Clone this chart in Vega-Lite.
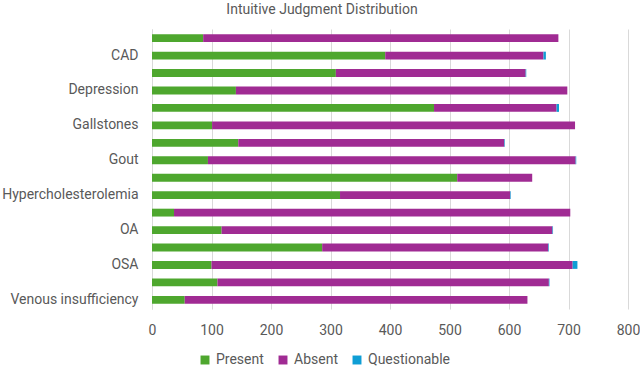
{
  "$schema": "https://vega.github.io/schema/vega-lite/v6.json",
  "autosize": {"type": "none"},
  "width": 476,
  "height": 280,
  "padding": {"left": 152, "top": 29, "right": 12, "bottom": 57},
  "background": "white",
  "title": {
    "text": "Intuitive Judgment Distribution",
    "anchor": "middle",
    "frame": "group",
    "dx": -68,
    "offset": 12,
    "font": "Roboto",
    "fontSize": 14,
    "fontWeight": "normal",
    "color": "#595959"
  },
  "data": {
    "values": [
      {"condition": "Asthma", "judgment": "Present", "count": 86},
      {"condition": "Asthma", "judgment": "Absent", "count": 597},
      {"condition": "Asthma", "judgment": "Questionable", "count": 0},
      {"condition": "CAD", "judgment": "Present", "count": 392},
      {"condition": "CAD", "judgment": "Absent", "count": 266},
      {"condition": "CAD", "judgment": "Questionable", "count": 4},
      {"condition": "CHF", "judgment": "Present", "count": 309},
      {"condition": "CHF", "judgment": "Absent", "count": 319},
      {"condition": "CHF", "judgment": "Questionable", "count": 1},
      {"condition": "Depression", "judgment": "Present", "count": 141},
      {"condition": "Depression", "judgment": "Absent", "count": 557},
      {"condition": "Depression", "judgment": "Questionable", "count": 0},
      {"condition": "Diabetes", "judgment": "Present", "count": 474},
      {"condition": "Diabetes", "judgment": "Absent", "count": 206},
      {"condition": "Diabetes", "judgment": "Questionable", "count": 4},
      {"condition": "Gallstones", "judgment": "Present", "count": 101},
      {"condition": "Gallstones", "judgment": "Absent", "count": 610},
      {"condition": "Gallstones", "judgment": "Questionable", "count": 0},
      {"condition": "GERD", "judgment": "Present", "count": 145},
      {"condition": "GERD", "judgment": "Absent", "count": 447},
      {"condition": "GERD", "judgment": "Questionable", "count": 1},
      {"condition": "Gout", "judgment": "Present", "count": 94},
      {"condition": "Gout", "judgment": "Absent", "count": 618},
      {"condition": "Gout", "judgment": "Questionable", "count": 1},
      {"condition": "Hypertension", "judgment": "Present", "count": 513},
      {"condition": "Hypertension", "judgment": "Absent", "count": 126},
      {"condition": "Hypertension", "judgment": "Questionable", "count": 0},
      {"condition": "Hypercholesterolemia", "judgment": "Present", "count": 316},
      {"condition": "Hypercholesterolemia", "judgment": "Absent", "count": 286},
      {"condition": "Hypercholesterolemia", "judgment": "Questionable", "count": 1},
      {"condition": "Hypertriglyceridemia", "judgment": "Present", "count": 37},
      {"condition": "Hypertriglyceridemia", "judgment": "Absent", "count": 666},
      {"condition": "Hypertriglyceridemia", "judgment": "Questionable", "count": 0},
      {"condition": "OA", "judgment": "Present", "count": 117},
      {"condition": "OA", "judgment": "Absent", "count": 556},
      {"condition": "OA", "judgment": "Questionable", "count": 1},
      {"condition": "Obesity", "judgment": "Present", "count": 286},
      {"condition": "Obesity", "judgment": "Absent", "count": 380},
      {"condition": "Obesity", "judgment": "Questionable", "count": 1},
      {"condition": "OSA", "judgment": "Present", "count": 100},
      {"condition": "OSA", "judgment": "Absent", "count": 607},
      {"condition": "OSA", "judgment": "Questionable", "count": 8},
      {"condition": "PVD", "judgment": "Present", "count": 110},
      {"condition": "PVD", "judgment": "Absent", "count": 557},
      {"condition": "PVD", "judgment": "Questionable", "count": 1},
      {"condition": "Venous insufficiency", "judgment": "Present", "count": 55},
      {"condition": "Venous insufficiency", "judgment": "Absent", "count": 576},
      {"condition": "Venous insufficiency", "judgment": "Questionable", "count": 0}
    ]
  },
  "transform": [
    {"calculate": "indexof(['Present','Absent','Questionable'], datum.judgment)", "as": "stackOrder"}
  ],
  "mark": {"type": "bar"},
  "encoding": {
    "y": {
      "field": "condition",
      "type": "nominal",
      "sort": ["Asthma", "CAD", "CHF", "Depression", "Diabetes", "Gallstones", "GERD", "Gout", "Hypertension", "Hypercholesterolemia", "Hypertriglyceridemia", "OA", "Obesity", "OSA", "PVD", "Venous insufficiency"],
      "scale": {"paddingInner": 0.55, "paddingOuter": 0.3},
      "axis": {
        "title": null,
        "labelExpr": "indexof(['CAD','Depression','Gallstones','Gout','Hypercholesterolemia','OA','OSA','Venous insufficiency'], datum.value) >= 0 ? datum.label : ''",
        "labelFont": "Roboto",
        "labelFontSize": 14,
        "labelColor": "#595959",
        "labelPadding": 14,
        "ticks": false,
        "domainColor": "#d9d9d9",
        "domainWidth": 1,
        "labelLimit": 200,
        "grid": false
      }
    },
    "x": {
      "field": "count",
      "type": "quantitative",
      "stack": "zero",
      "scale": {"domain": [0, 800], "nice": false},
      "axis": {
        "title": null,
        "values": [0, 100, 200, 300, 400, 500, 600, 700, 800],
        "labelFont": "Roboto",
        "labelFontSize": 14,
        "labelColor": "#595959",
        "labelPadding": 14,
        "labelFlush": false,
        "ticks": false,
        "domain": false,
        "grid": true,
        "gridColor": "#d9d9d9",
        "gridWidth": 1
      }
    },
    "color": {
      "field": "judgment",
      "type": "nominal",
      "sort": ["Present", "Absent", "Questionable"],
      "scale": {"domain": ["Present", "Absent", "Questionable"], "range": ["#4ea72e", "#a02b93", "#0f9ed5"]},
      "legend": {
        "title": null,
        "orient": "none",
        "direction": "horizontal",
        "legendX": 46,
        "legendY": 324,
        "symbolType": "square",
        "symbolSize": 80,
        "symbolStrokeWidth": 0,
        "labelFont": "Roboto",
        "labelFontSize": 14,
        "labelColor": "#595959",
        "labelOffset": 4,
        "columnPadding": 12
      }
    },
    "order": {"field": "stackOrder", "type": "quantitative"}
  },
  "config": {"view": {"stroke": null}}
}
